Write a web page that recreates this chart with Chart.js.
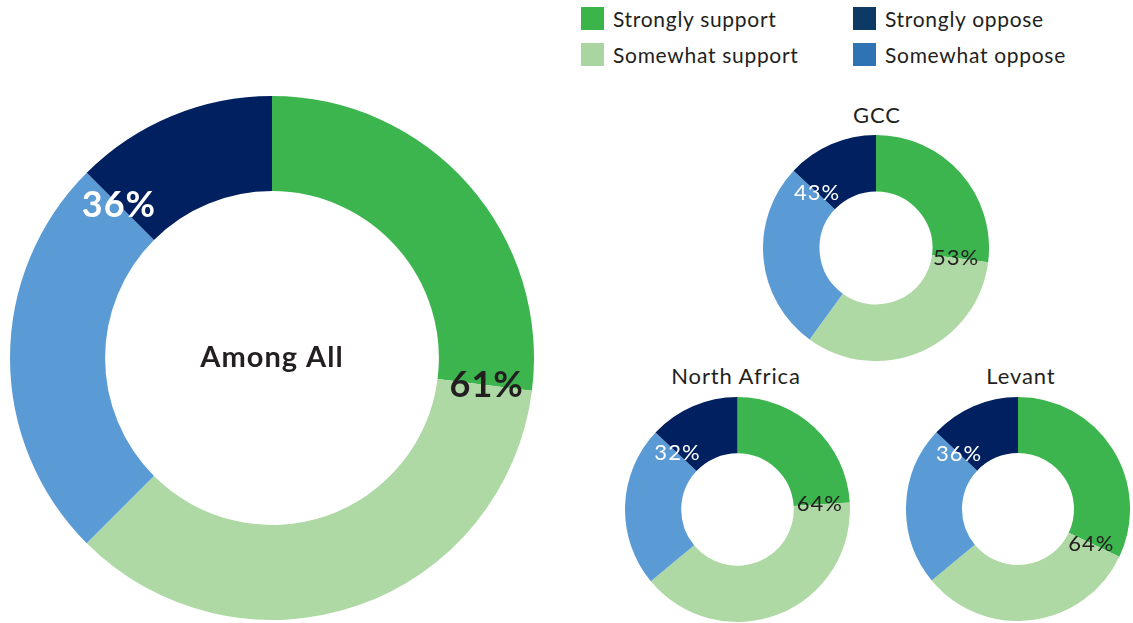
<!DOCTYPE html>
<html>
<head>
<meta charset="utf-8">
<script src="https://cdn.jsdelivr.net/npm/chart.js"></script>
<style>
  body { margin: 0; background: #fff; font-family: Lato, "Noto Sans", sans-serif; color: #231f20; }
  .wrap { position: relative; width: 1133px; height: 623px; overflow: hidden; }
  .box { position: absolute; }
  .title { position: absolute; font-size: 22px; letter-spacing: 0.9px; transform: translateX(-50%); white-space: nowrap; }
  .legend { position: absolute; left: 581px; top: 7px; display: grid; grid-template-columns: 272px 220px; row-gap: 13px; font-size: 21px; letter-spacing: 0.7px; }
  .legend div { display: flex; align-items: center; height: 23px; white-space: nowrap; }
  .legend span { display: inline-block; width: 23px; height: 23px; margin-right: 9px; }
</style>
</head>
<body>
<div class="wrap">
  <div class="legend">
    <div><span style="background:#3bb54a"></span>Strongly support</div>
    <div><span style="background:#0d3a64"></span>Strongly oppose</div>
    <div><span style="background:#a8d5a0"></span>Somewhat support</div>
    <div><span style="background:#2e74b5"></span>Somewhat oppose</div>
  </div>

  <div class="box" style="left:10px;top:96px"><canvas id="allChart" width="524" height="524"></canvas></div>
  <div class="title" style="left:877px;top:101px">GCC</div>
  <div class="box" style="left:763px;top:135px"><canvas id="gccChart" width="226" height="226"></canvas></div>
  <div class="title" style="left:736px;top:362px">North Africa</div>
  <div class="box" style="left:625px;top:397px"><canvas id="naChart" width="225" height="225"></canvas></div>
  <div class="title" style="left:1021px;top:362px">Levant</div>
  <div class="box" style="left:906px;top:397px"><canvas id="levantChart" width="224" height="224"></canvas></div>
</div>

<script>
// categories
const categories = ['Strongly support', 'Somewhat support', 'Somewhat oppose', 'Strongly oppose'];
const segColors = ['#3cb54f', '#aed9a5', '#5b9bd5', '#002060'];

// slice shares (% of the ring)
const allValues = [27, 35.5, 25, 12.5];
const gccValues = [27, 33, 27, 13];
const northAfricaValues = [24, 40, 23, 13];
const levantValues = [32, 32, 23, 13];

// printed totals
const supportLabels = [61, 53, 64, 64];
const opposeLabels = [36, 43, 32, 36];

// draws the support / oppose totals on the ring, at the strongly/somewhat boundary
const totalsPlugin = {
  id: 'totals',
  afterDraw(chart, args, opts) {
    const ctx = chart.ctx;
    const arcs = chart.getDatasetMeta(0).data;
    const put = (arc, text, color) => {
      const r = (arc.innerRadius + arc.outerRadius) / 2 + (opts.shift || 0);
      const a = arc.endAngle;
      ctx.fillStyle = color;
      ctx.fillText(text, arc.x + Math.cos(a) * r, arc.y + Math.sin(a) * r);
    };
    ctx.save();
    ctx.font = opts.font;
    ctx.letterSpacing = opts.spacing || '0px';
    ctx.textAlign = 'center';
    ctx.textBaseline = 'middle';
    put(arcs[0], opts.support + '%', '#231f20');
    put(arcs[2], opts.oppose + '%', '#ffffff');
    if (opts.center) {
      ctx.font = opts.centerFont;
      ctx.fillStyle = '#231f20';
      ctx.fillText(opts.center, arcs[0].x, arcs[0].y);
    }
    ctx.restore();
  }
};

function makeDonut(id, values, cutout, i, extra) {
  new Chart(document.getElementById(id), {
    type: 'doughnut',
    data: {
      labels: categories,
      datasets: [{
        data: values,
        backgroundColor: segColors,
        borderWidth: 0
      }]
    },
    options: {
      responsive: false,
      animation: false,
      events: [],
      cutout: cutout,
      layout: { padding: 0 },
      plugins: {
        legend: { display: false },
        tooltip: { enabled: false },
        totals: Object.assign({
          support: supportLabels[i],
          oppose: opposeLabels[i],
          font: '22px Lato, "Noto Sans", sans-serif',
          spacing: '1px'
        }, extra || {})
      }
    },
    plugins: [totalsPlugin]
  });
}

makeDonut('allChart', allValues, '63.7%', 0, {
  font: 'bold 36px Lato, "Noto Sans", sans-serif',
  spacing: '1px',
  shift: 2,
  center: 'Among All',
  centerFont: 'bold 29px Lato, "Noto Sans", sans-serif'
});
makeDonut('gccChart', gccValues, '50%', 1, { shift: -4 });
makeDonut('naChart', northAfricaValues, '50%', 2, { shift: -2 });
makeDonut('levantChart', levantValues, '50%', 3, { shift: -3 });
</script>
</body>
</html>
